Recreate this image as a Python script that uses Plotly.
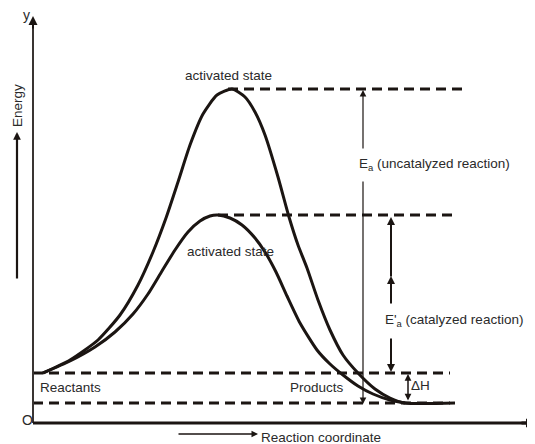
import plotly.graph_objects as go

# ---- data (diagram coordinates; y grows downward) ----
uncat_x = [43, 70, 98, 120, 138, 153, 166, 178, 190, 203, 217, 232,
           245, 255, 265, 278, 289, 298, 307, 318, 330, 343, 358, 375, 390, 405, 455]
uncat_y = [373, 360, 340, 315, 285, 252, 218, 182, 145, 114, 95, 89,
           97, 112, 135, 177, 217, 245, 268, 300, 330, 355, 373, 389, 398, 403, 403]

cat_x = [43, 70, 95, 115, 133, 148, 162, 175, 188, 200, 210, 218,
         230, 242, 255, 265, 276, 287, 300, 317, 330, 343, 358, 373, 390, 405]
cat_y = [373, 361, 347, 332, 314, 294, 271, 250, 232, 221, 216, 215,
         218, 225, 238, 252, 272, 296, 323, 350, 364, 375, 386, 394, 400, 403]

level_uncat_peak = 89
level_cat_peak = 215
level_reactants = 373
level_products = 403

labels = {
    "act1": "activated state",
    "act2": "activated state",
    "ea": "E<sub>a</sub> (uncatalyzed reaction)",
    "eac": "E'<sub>a</sub> (catalyzed reaction)",
    "dh": "ΔH",
    "react": "Reactants",
    "prod": "Products",
    "xlab": "Reaction coordinate",
    "ylab": "Energy",
}

INK = "#1b1512"
TXT = "#2a2a2a"
FONT = "Liberation Sans, Arial, sans-serif"
FS = 13.5

# page body has an 8px margin: the figure starts at window pixel (8, 8)
OFF = 8
W, H = 535, 444

fig = go.Figure()

fig.add_trace(go.Scatter(x=uncat_x, y=uncat_y, mode="lines",
                         line=dict(color=INK, width=3, shape="spline", smoothing=0.6),
                         hoverinfo="skip", showlegend=False))
fig.add_trace(go.Scatter(x=cat_x, y=cat_y, mode="lines",
                         line=dict(color=INK, width=3, shape="spline", smoothing=0.6),
                         hoverinfo="skip", showlegend=False))

shapes = []
def dash(x0, x1, y):
    shapes.append(dict(type="line", x0=x0, x1=x1, y0=y, y1=y, xref="x", yref="y",
                       line=dict(color=INK, width=3, dash="10px,6px")))

dash(228, 462, level_uncat_peak)
dash(218, 456, level_cat_peak)
dash(33, 450, level_reactants)
dash(33, 450, level_products)

# axes lines
shapes.append(dict(type="line", x0=33, x1=33, y0=423, y1=22, xref="x", yref="y",
                   line=dict(color="#3a3533", width=2)))
shapes.append(dict(type="line", x0=33, x1=528, y0=423, y1=423, xref="x", yref="y",
                   line=dict(color=INK, width=3)))
fig.update_layout(shapes=shapes)

ann = []
def arrow(x0, y0, x1, y1, width=1.2, head=2, size=1.0, side="end"):
    ann.append(dict(x=x1, y=y1, ax=x0, ay=y0, xref="x", yref="y", axref="x", ayref="y",
                    text="", showarrow=True, arrowhead=head, arrowsize=size,
                    arrowwidth=width, arrowcolor=INK, arrowside=side, startarrowhead=head,
                    startarrowsize=size))

def text(x, y, s, size=FS, angle=0, xanchor="center"):
    ann.append(dict(x=x, y=y, xref="x", yref="y", text=s, showarrow=False,
                    font=dict(family=FONT, size=size, color=TXT), textangle=angle,
                    xanchor=xanchor, yanchor="middle"))

# axis arrows
arrow(33, 30, 33, 16, width=2, head=2, size=0.9)
arrow(520, 423, 535, 423, width=3, head=2, size=0.6)
arrow(17, 280, 17, 132, width=2.2, head=2, size=0.7)
arrow(177, 434, 258, 434, width=1.3, head=2, size=1.0)

# Ea arrow
arrow(363, 150, 363, 90, width=1.2, head=2, size=1.1)
arrow(363, 180, 363, 404, width=1.2, head=2, size=1.1)
# E'a arrow
arrow(391, 305, 391, 276, width=2, head=2, size=0.8)
arrow(391, 278, 391, 217, width=2, head=2, size=0.8)
arrow(391, 337, 391, 372, width=2, head=2, size=0.8)
# dH double arrow
arrow(408, 402, 408, 374, width=1.5, head=2, size=0.9, side="end+start")

text(26, 15, "y", size=14)
text(27, 420, "O", size=14)
text(532, 437, "X", size=13, xanchor="left")
text(17, 106, labels["ylab"], angle=-90)
text(259, 437, labels["xlab"], xanchor="left")
text(228, 75, labels["act1"])
text(230, 251, labels["act2"])
text(357, 164, labels["ea"], xanchor="left")
text(383, 320, labels["eac"], xanchor="left")
text(409, 385, labels["dh"], xanchor="left")
text(38, 387, labels["react"], xanchor="left")
text(288, 387, labels["prod"], xanchor="left")

fig.update_layout(
    annotations=ann,
    width=W - OFF, height=H - OFF,
    margin=dict(l=0, r=0, t=0, b=0),
    paper_bgcolor="white", plot_bgcolor="white",
    xaxis=dict(range=[OFF, W], visible=False, fixedrange=True),
    yaxis=dict(range=[H, OFF], visible=False, fixedrange=True),
    showlegend=False,
)

fig.write_html("out.html")
